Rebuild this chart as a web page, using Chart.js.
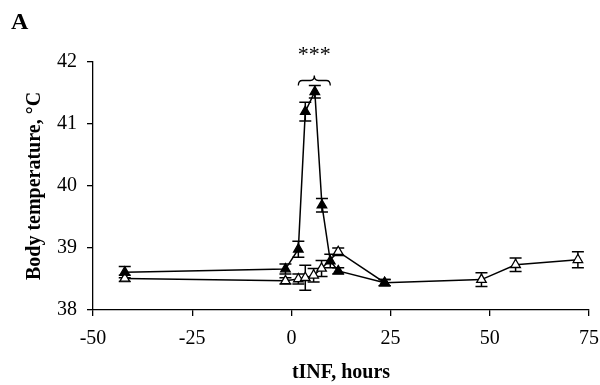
<!DOCTYPE html>
<html>
<head>
<meta charset="utf-8">
<script src="https://cdn.jsdelivr.net/npm/chart.js@4"></script>
<style>
  html, body { margin: 0; padding: 0; background: #fff; }
  #wrap { width: 600px; height: 385px; }
</style>
</head>
<body>
<div id="wrap"><canvas id="tempChart" width="600" height="385"></canvas></div>
<script>
// infected group (filled triangles)
const hrsInf  = [-42, -1.5, 1.75, 3.5, 5.9, 7.7, 9.8, 11.8, 23.5];
const tempInf = [38.61, 38.66, 38.98, 41.2, 41.52, 39.69, 38.79, 38.63, 38.44];
const errInf  = [0.09, 0.08, 0.13, 0.15, 0.1, 0.11, 0.11, 0.05, 0.05];

// control group (open triangles)
const hrsCtl  = [-42, -1.5, 1.75, 3.5, 5.6, 7.6, 11.8, 23.5, 47.9, 56.5, 72.2];
const tempCtl = [38.51, 38.47, 38.5, 38.52, 38.56, 38.67, 38.94, 38.44, 38.49, 38.73, 38.81];
const errCtl  = [0.05, 0.05, 0.08, 0.2, 0.11, 0.13, 0.06, 0.05, 0.11, 0.11, 0.13];

const xTicks = [-50, -25, 0, 25, 50, 75];
const yTicks = [38, 39, 40, 41, 42];

const serif = "'Liberation Serif', 'Times New Roman', serif";

function toPoints(xs, ys) {
    return xs.map((x, i) => ({ x: x, y: ys[i] }));
}

// vertical error bars with caps, drawn under the markers
const errorBars = {
    id: 'errorBars',
    beforeDatasetsDraw(chart) {
        const ctx = chart.ctx;
        const xs = chart.scales.x, ys = chart.scales.y;
        const errs = [errInf, errCtl];
        ctx.save();
        ctx.strokeStyle = '#000';
        ctx.lineWidth = 1.5;
        chart.data.datasets.forEach((ds, d) => {
            ds.data.forEach((p, i) => {
                const px = xs.getPixelForValue(p.x);
                const top = ys.getPixelForValue(p.y + errs[d][i]);
                const bot = ys.getPixelForValue(p.y - errs[d][i]);
                ctx.beginPath();
                ctx.moveTo(px, top); ctx.lineTo(px, bot);
                ctx.moveTo(px - 6, top); ctx.lineTo(px + 6, top);
                ctx.moveTo(px - 6, bot); ctx.lineTo(px + 6, bot);
                ctx.stroke();
            });
        });
        ctx.restore();
    }
};

// panel letter, significance stars and the curly brace over the peak
const marks = {
    id: 'marks',
    afterDraw(chart) {
        const ctx = chart.ctx;
        const xs = chart.scales.x;
        const x1 = xs.getPixelForValue(hrsInf[2]);
        const x2 = xs.getPixelForValue(hrsInf[6]);
        const mid = (x1 + x2) / 2;
        const yb = 80.5;
        ctx.save();
        ctx.fillStyle = '#000';
        ctx.font = 'bold 24px ' + serif;
        ctx.textAlign = 'left';
        ctx.textBaseline = 'alphabetic';
        ctx.fillText('A', 11, 29);

        ctx.font = '22px ' + serif;
        ctx.textAlign = 'center';
        ctx.fillText('***', mid, 61);

        ctx.strokeStyle = '#000';
        ctx.lineWidth = 1.3;
        ctx.beginPath();
        ctx.moveTo(x1, yb + 5);
        ctx.quadraticCurveTo(x1, yb, x1 + 4, yb);
        ctx.lineTo(mid - 4, yb);
        ctx.quadraticCurveTo(mid, yb, mid, yb - 5);
        ctx.quadraticCurveTo(mid, yb, mid + 4, yb);
        ctx.lineTo(x2 - 4, yb);
        ctx.quadraticCurveTo(x2, yb, x2, yb + 5);
        ctx.stroke();
        ctx.restore();
    }
};

new Chart(document.getElementById('tempChart').getContext('2d'), {
    type: 'scatter',
    data: {
        datasets: [
            {
                label: 'infected',
                data: toPoints(hrsInf, tempInf),
                showLine: true,
                borderColor: '#000',
                borderWidth: 1.5,
                pointStyle: 'triangle',
                pointRadius: 5.5,
                pointBackgroundColor: '#000',
                pointBorderColor: '#000',
                pointBorderWidth: 1.3,
            },
            {
                label: 'control',
                data: toPoints(hrsCtl, tempCtl),
                showLine: true,
                borderColor: '#000',
                borderWidth: 1.5,
                pointStyle: 'triangle',
                pointRadius: 5.5,
                pointBackgroundColor: '#fff',
                pointBorderColor: '#000',
                pointBorderWidth: 1.3,
            },
        ],
    },
    options: {
        responsive: false,
        animation: false,
        layout: { padding: { top: 62, right: 11, left: 0, bottom: 0 } },
        plugins: {
            legend: { display: false },
            tooltip: { enabled: false },
        },
        scales: {
            x: {
                type: 'linear',
                min: -50,
                max: 75,
                afterBuildTicks: (s) => { s.ticks = xTicks.map(v => ({ value: v })); },
                afterFit: (s) => { s.height = 75; s.paddingLeft = 0; s.paddingRight = 0; },
                grid: { display: true, drawOnChartArea: false, drawTicks: true, tickLength: 6, color: '#000', lineWidth: 1.3 },
                border: { display: true, color: '#000', width: 1.3 },
                ticks: { color: '#000', font: { family: serif, size: 20 }, padding: 11, maxRotation: 0 },
                title: { display: true, text: 'tINF, hours', color: '#000', font: { family: serif, size: 20, weight: 'bold' }, padding: { top: 0, bottom: 0 } },
            },
            y: {
                min: 38,
                max: 42,
                afterBuildTicks: (s) => { s.ticks = yTicks.map(v => ({ value: v })); },
                afterFit: (s) => { s.width = 93; },
                grid: { display: true, drawOnChartArea: false, drawTicks: true, tickLength: 6, color: '#000', lineWidth: 1.3 },
                border: { display: true, color: '#000', width: 1.3 },
                ticks: { color: '#000', font: { family: serif, size: 20 }, padding: 10 },
                title: { display: true, text: 'Body temperature, °C', color: '#000', font: { family: serif, size: 20, weight: 'bold' }, padding: { top: 23, bottom: 0 } },
            },
        },
    },
    plugins: [errorBars, marks],
});
</script>
</body>
</html>
